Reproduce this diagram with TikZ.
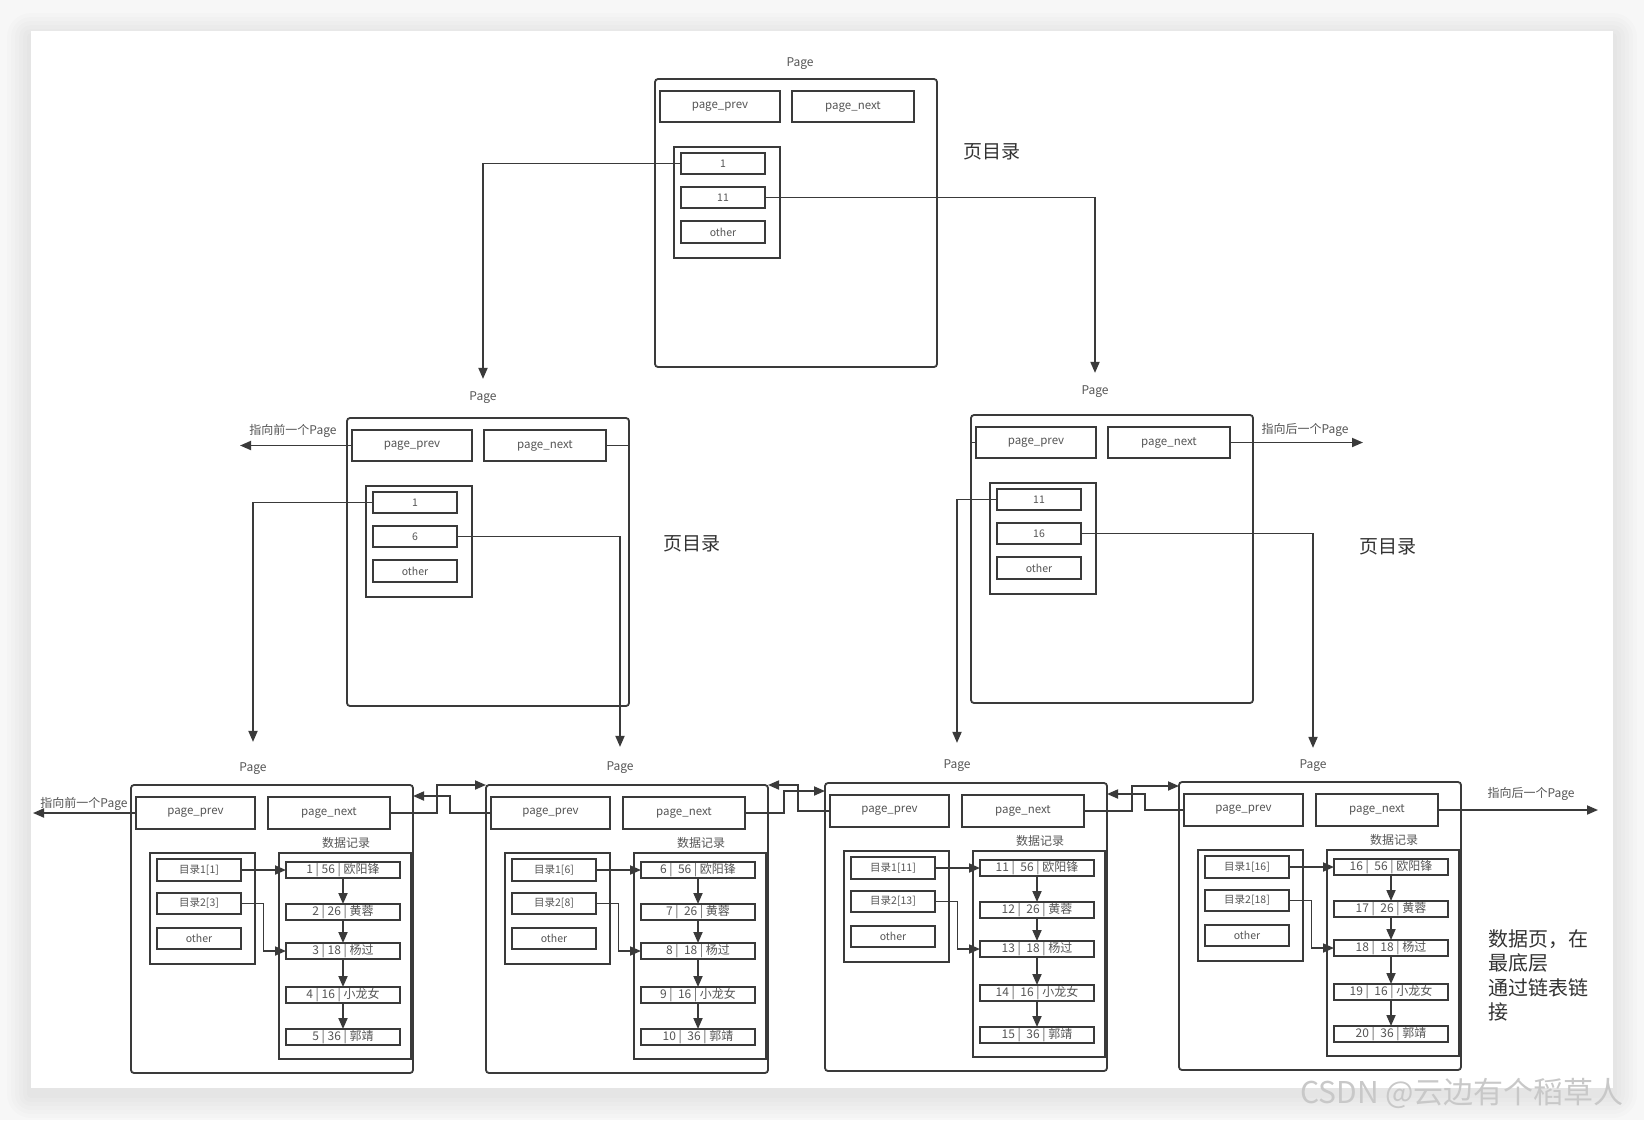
\documentclass[tikz,border=0pt]{standalone}
\usepackage{fontspec}
\setmainfont{Noto Sans CJK SC}
\usetikzlibrary{arrows.meta,calc}
\definecolor{ln}{HTML}{3A3A3A}
\definecolor{tx}{HTML}{555555}
\definecolor{dk}{HTML}{333333}
\definecolor{bgc}{HTML}{F7F7F7}
\definecolor{wm}{HTML}{C8C8C8}

\newcommand\rbox[7]{\node[#2, minimum width={(#5)-(#3)}, minimum height={(#6)-(#4)}] (#1) at ({((#3)+(#5))/2},{((#4)+(#6))/2}) {#7};}

\tikzset{
 pagebox/.style={draw=ln, line width=1.8pt, rounded corners=3pt, inner sep=0pt, outer sep=0pt},
 hbox/.style={draw=ln, line width=2pt, inner sep=0pt, outer sep=0pt, text=tx, font=\fontsize{11.5}{13}\selectfont},
 ebox/.style={hbox, font=\fontsize{10.5}{12}\selectfont},
 recbox/.style={hbox, font=\fontsize{12}{13}\selectfont},
 lbl/.style={text=tx, font=\fontsize{12}{14}\selectfont, inner sep=0pt},
 big/.style={text=dk, font=\fontsize{19}{22}\selectfont, inner sep=0pt},
 conn/.style={draw=ln, line width=1.8pt},
 arr/.style={conn, -{Triangle[length=11pt,width=9pt]}},
}

% bottom data page: #1 name, #2 L, #3 T, #4 first number, #5 gap
\newcommand\botpage[5]{%
 \rbox{#1}{pagebox}{#2}{#3}{#2+282}{#3+288}{}
 \rbox{#1prev}{hbox}{#2+5}{#3+12}{#2+124}{#3+44}{page\_prev}
 \rbox{#1next}{hbox}{#2+137}{#3+12}{#2+259}{#3+44}{page\_next}
 \node[lbl] (#1dlabel) at ({#2+215},{#3+58}) {数据记录};
 \rbox{#1dir}{hbox}{#2+19}{#3+68}{#2+124}{#3+179}{}
 \rbox{#1d1}{ebox}{#2+26}{#3+74}{#2+110}{#3+96}{目录1[#4]}
 \rbox{#1d2}{ebox}{#2+26}{#3+108}{#2+110}{#3+129}{目录2[\the\numexpr#4+2\relax]}
 \rbox{#1d3}{ebox}{#2+26}{#3+143}{#2+110}{#3+164}{other}
 \rbox{#1data}{hbox}{#2+148}{#3+68}{#2+280}{#3+274}{}
 \rbox{#1r1}{recbox}{#2+155}{#3+77}{#2+269}{#3+93}{#4 |#5 56 | 欧阳锋}
 \rbox{#1r2}{recbox}{#2+155}{#3+119}{#2+269}{#3+135}{\the\numexpr#4+1\relax\ |#5 26 | 黄蓉}
 \rbox{#1r3}{recbox}{#2+155}{#3+158}{#2+269}{#3+174}{\the\numexpr#4+2\relax\ |#5 18 | 杨过}
 \rbox{#1r4}{recbox}{#2+155}{#3+202}{#2+269}{#3+218}{\the\numexpr#4+3\relax\ |#5 16 | 小龙女}
 \rbox{#1r5}{recbox}{#2+155}{#3+244}{#2+269}{#3+260}{\the\numexpr#4+4\relax\ |#5 36 | 郭靖}
 \draw[arr] (#1d1.east) -- (#1r1.west);
 \draw[arr] (#1d2.east) -| ($(#1d2.east)!0.5!(#1r3.west)$) |- (#1r3.west);
 \draw[arr] (#1r1.south) -- (#1r2.north);
 \draw[arr] (#1r2.south) -- (#1r3.north);
 \draw[arr] (#1r3.south) -- (#1r4.north);
 \draw[arr] (#1r4.south) -- (#1r5.north);
}

% directory page: #1 name, #2 L, #3 T, #4 first entry, #5 second entry
\newcommand\dirpage[5]{%
 \rbox{#1}{pagebox}{#2}{#3}{#2+282}{#3+288}{}
 \rbox{#1prev}{hbox}{#2+5}{#3+12}{#2+125}{#3+43}{page\_prev}
 \rbox{#1next}{hbox}{#2+137}{#3+12}{#2+259}{#3+43}{page\_next}
 \rbox{#1dir}{hbox}{#2+19}{#3+68}{#2+125}{#3+179}{}
 \rbox{#1e1}{ebox}{#2+26}{#3+74}{#2+110}{#3+95}{#4}
 \rbox{#1e2}{ebox}{#2+26}{#3+108}{#2+110}{#3+129}{#5}
 \rbox{#1e3}{ebox}{#2+26}{#3+142}{#2+110}{#3+164}{other}
}

\begin{document}
\begin{tikzpicture}[x=1pt,y=-1pt]
\useasboundingbox (0,0) rectangle (1644,1120);
\fill[bgc] (0,0) rectangle (1644,1120);
% soft shadow of the card
\foreach \s in {24,20,16,12,8,4}{
  \fill[black, opacity=0.012, rounded corners=\s pt] ({31-\s},{31-\s+6}) rectangle ({1613+\s},{1088+\s+6});
}
\fill[white] (31,31) rectangle (1613,1088);

% pages
\dirpage{tp}{655}{79}{1}{11}
\dirpage{ml}{347}{418}{1}{6}
\dirpage{mr}{971}{415}{11}{16}
\botpage{pa}{131}{785}{1}{}
\botpage{pb}{486}{785}{6}{\ }
\botpage{pc}{825}{783}{11}{\ }
\botpage{pd}{1179}{782}{16}{\ }

% titles
\node[lbl] (tptitle) at (800,64) {Page};
\node[lbl] (mltitle) at (483,398) {Page};
\node[lbl] (mrtitle) at (1095,392) {Page};
\node[lbl] (patitle) at (253,769) {Page};
\node[lbl] (pbtitle) at (620,768) {Page};
\node[lbl] (pctitle) at (957,766) {Page};
\node[lbl] (pdtitle) at (1313,766) {Page};

% big labels
\node[big] (lab1) at (992,152) {页目录};
\node[big] (lab2) at (692,544) {页目录};
\node[big] (lab3) at (1388,547) {页目录};
\node[anchor=north west, text=dk, font=\fontsize{20}{24.5}\selectfont, align=left, inner sep=0pt] (side) at (1488,929) {数据页，在\\最底层\\通过链表链\\接};

% tree connectors
\draw[arr, shorten >=13pt] (tpe1.west) -| (mltitle.north);
\draw[arr, shorten >=13pt] (tpe2.east) -| (mrtitle.north);
\draw[arr, shorten >=21pt] (mle1.west) -| (patitle.north);
\draw[arr, shorten >=15pt] (mle2.east) -| (pbtitle.north);
\draw[arr, shorten >=17pt] (mre1.west) -| (pctitle.north);
\draw[arr, shorten >=12pt] (mre2.east) -| (pdtitle.north);

% outward links
\coordinate (mlout) at (240,0);
\coordinate (mrout) at (1363,0);
\coordinate (paout) at (33,0);
\coordinate (pdout) at (1598,0);
\draw[arr] (mlprev.west) -- (mlprev.west -| mlout);
\draw[arr] (mrnext.east) -- (mrnext.east -| mrout);
\draw[arr] (paprev.west) -- (paprev.west -| paout);
\draw[arr] (pdnext.east) -- (pdnext.east -| pdout);
\draw[conn] (mlnext.east) -- (mlnext.east -| ml.east);
\draw[conn] (mrprev.west) -- (mrprev.west -| mr.west);
\node[lbl] (mlouttext) at (293,431) {指向前一个Page};
\node[lbl] (mrouttext) at (1305,430) {指向后一个Page};
\node[lbl] (paouttext) at (84,804) {指向前一个Page};
\node[lbl] (pdouttext) at (1531,794) {指向后一个Page};

% linked list between data pages
\draw[arr] (panext.east) -- ++(47,0) |- (pb.north west);
\draw[arr] (pbprev.west) -- ++(-41,0) |- ([yshift=-11pt]pa.north east);
\draw[arr] (pcprev.west) -- ++(-32,0) |- (pb.north east);
\draw[arr] (pbnext.east) -- ++(39,0) |- ([yshift=-8pt]pc.north west);
\draw[arr] (pdprev.west) -- ++(-39,0) |- ([yshift=-11pt]pc.north east);
\draw[arr] (pcnext.east) -- ++(48,0) |- ([yshift=-4pt]pd.north west);

% watermark
\node[anchor=west, text=wm, font=\fontsize{30}{32}\selectfont, inner sep=0pt] (wmk) at (1300,1093) {CSDN @云边有个稻草人};
\end{tikzpicture}
\end{document}
